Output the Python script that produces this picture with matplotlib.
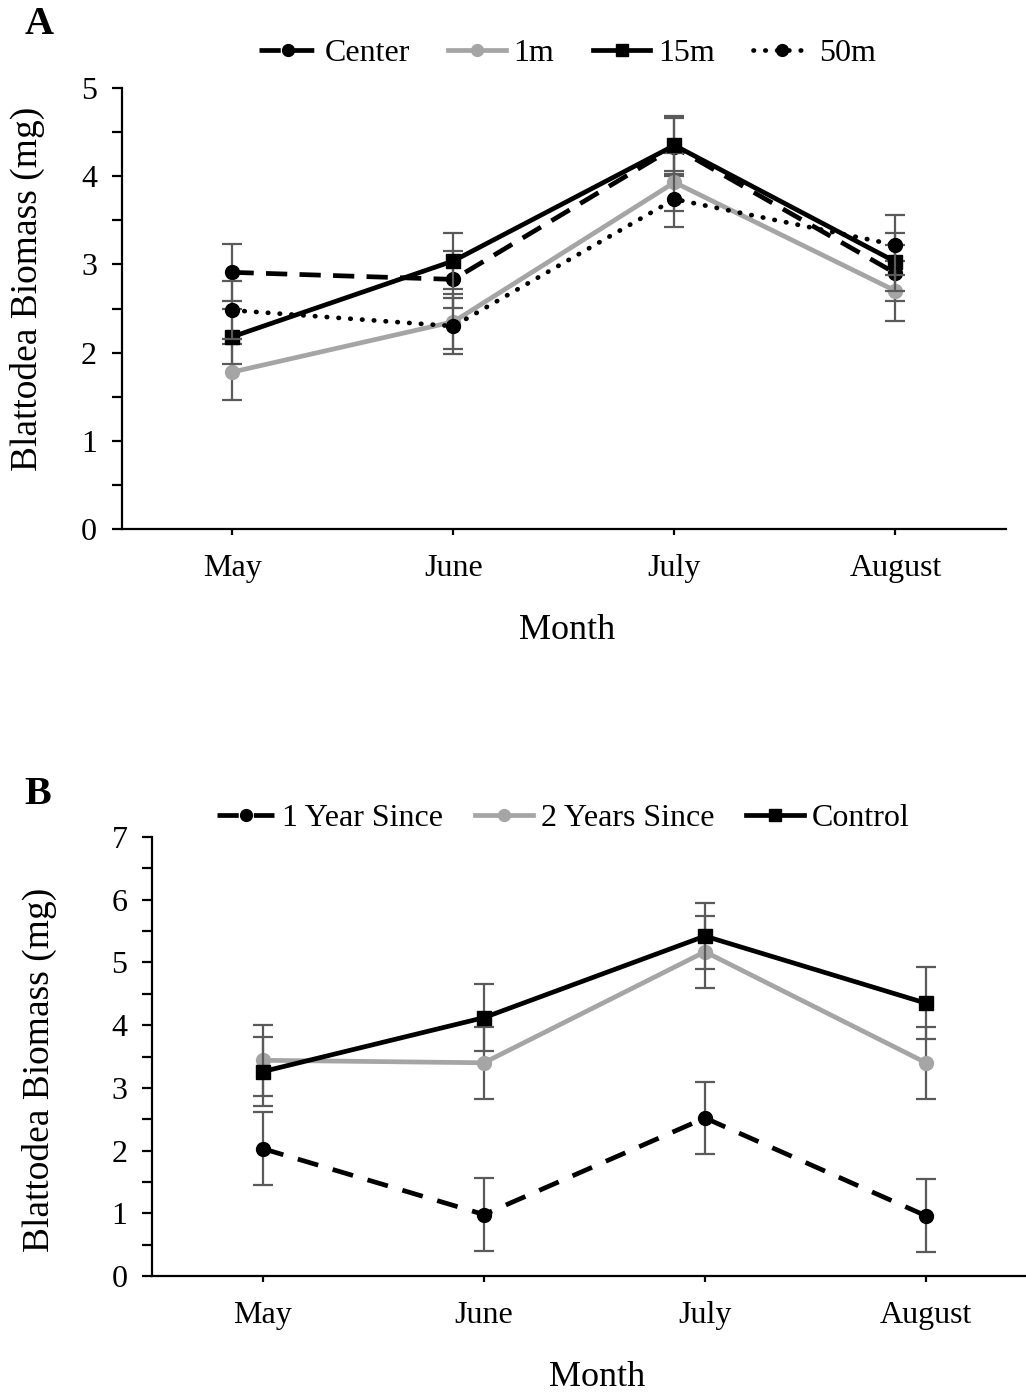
import numpy as np
import matplotlib
matplotlib.use("Agg")
from matplotlib import pyplot as plt

plt.rcParams['font.family'] = ['Liberation Serif', 'DejaVu Serif']
plt.rcParams['font.size'] = 23

months = ["May", "June", "July", "August"]

# Panel A: distance from gap centre
center = [2.91, 2.83, 4.33, 2.90]
center_se = [0.32, 0.32, 0.33, 0.32]
one_m = [1.78, 2.35, 3.93, 2.70]
one_m_se = [0.32, 0.31, 0.33, 0.34]
fifteen_m = [2.18, 3.04, 4.35, 3.03]
fifteen_m_se = [0.31, 0.32, 0.33, 0.33]
fifty_m = [2.48, 2.30, 3.74, 3.22]
fifty_m_se = [0.33, 0.32, 0.32, 0.34]

# Panel B: time since disturbance
year1 = [2.03, 0.98, 2.52, 0.96]
year1_se = [0.58, 0.58, 0.57, 0.58]
year2 = [3.44, 3.40, 5.17, 3.40]
year2_se = [0.57, 0.57, 0.57, 0.57]
control = [3.26, 4.12, 5.42, 4.35]
control_se = [0.55, 0.53, 0.53, 0.57]

GREY = '#a5a5a5'
ERR = '#5a5a5a'
DASH = (0, (4.5, 2.6))
DOT = (0, (0.1, 2.4))


def series(ax, y, se, color, ls, marker, label, z):
    x = np.arange(len(y))
    ax.errorbar(x, y, yerr=se, fmt='none', ecolor=ERR, elinewidth=1.6,
                capsize=7, capthick=1.6, zorder=z)
    ax.plot(x, y, color=color, linestyle=ls, lw=3.4, marker=marker, ms=10,
            markerfacecolor=color, markeredgecolor=color,
            dash_capstyle='round' if ls == DOT else 'butt',
            label=label, zorder=z + 0.5)


def style(ax, ymax):
    ax.set_xlim(-0.5, 3.5)
    ax.set_ylim(0, ymax)
    ax.set_xticks(range(len(months)))
    ax.set_xticklabels(months)
    ax.set_yticks(np.arange(0, ymax + 1, 1))
    ax.set_yticks(np.arange(0.5, ymax, 1), minor=True)
    for s in ['top', 'right']:
        ax.spines[s].set_visible(False)
    for s in ['left', 'bottom']:
        ax.spines[s].set_linewidth(1.6)
    ax.tick_params(axis='y', which='both', direction='out', length=7,
                   width=1.6, pad=11)
    ax.tick_params(axis='x', direction='out', length=4, width=1.6, pad=14)


fig = plt.figure(figsize=(10.26, 13.95), dpi=100)

axA = fig.add_axes([0.1189, 0.6208, 0.8616, 0.3161])
series(axA, center, center_se, 'black', DASH, 'o', 'Center', 2)
series(axA, one_m, one_m_se, GREY, '-', 'o', '1m', 3)
series(axA, fifteen_m, fifteen_m_se, 'black', '-', 's', '15m', 4)
series(axA, fifty_m, fifty_m_se, 'black', DOT, 'o', '50m', 5)
style(axA, 5)
axA.legend(loc='center', bbox_to_anchor=(0.553, 0.962),
           bbox_transform=fig.transFigure, ncol=4, frameon=False,
           handlelength=1.8, handletextpad=0.25, columnspacing=1.2,
           markerscale=0.85)

axB = fig.add_axes([0.1486, 0.0853, 0.8616, 0.3147])
series(axB, year1, year1_se, 'black', (0, (4.5, 3.2)), 'o', '1 Year Since', 2)
series(axB, year2, year2_se, GREY, '-', 'o', '2 Years Since', 3)
series(axB, control, control_se, 'black', '-', 's', 'Control', 4)
style(axB, 7)
axB.legend(loc='center', bbox_to_anchor=(0.549, 0.4135),
           bbox_transform=fig.transFigure, ncol=3, frameon=False,
           handlelength=1.8, handletextpad=0.25, columnspacing=1.0,
           markerscale=0.85)

# axis titles and panel letters
fig.text(0.027, 1 - 289 / 1395, 'Blattodea Biomass (mg)', rotation=90,
         ha='center', va='center', fontsize=27)
fig.text(0.038, 1 - 1070 / 1395, 'Blattodea Biomass (mg)', rotation=90,
         ha='center', va='center', fontsize=27)
fig.text(567 / 1026, 1 - 630 / 1395, 'Month', ha='center', va='center',
         fontsize=26)
fig.text(597 / 1026, 1 - 1378 / 1395, 'Month', ha='center', va='center',
         fontsize=26)
fig.text(0.024, 1 - 24 / 1395, 'A', ha='left', va='center', fontsize=29,
         fontweight='bold')
fig.text(0.024, 1 - 794 / 1395, 'B', ha='left', va='center', fontsize=29,
         fontweight='bold')

fig.savefig('out.png', dpi=100)
